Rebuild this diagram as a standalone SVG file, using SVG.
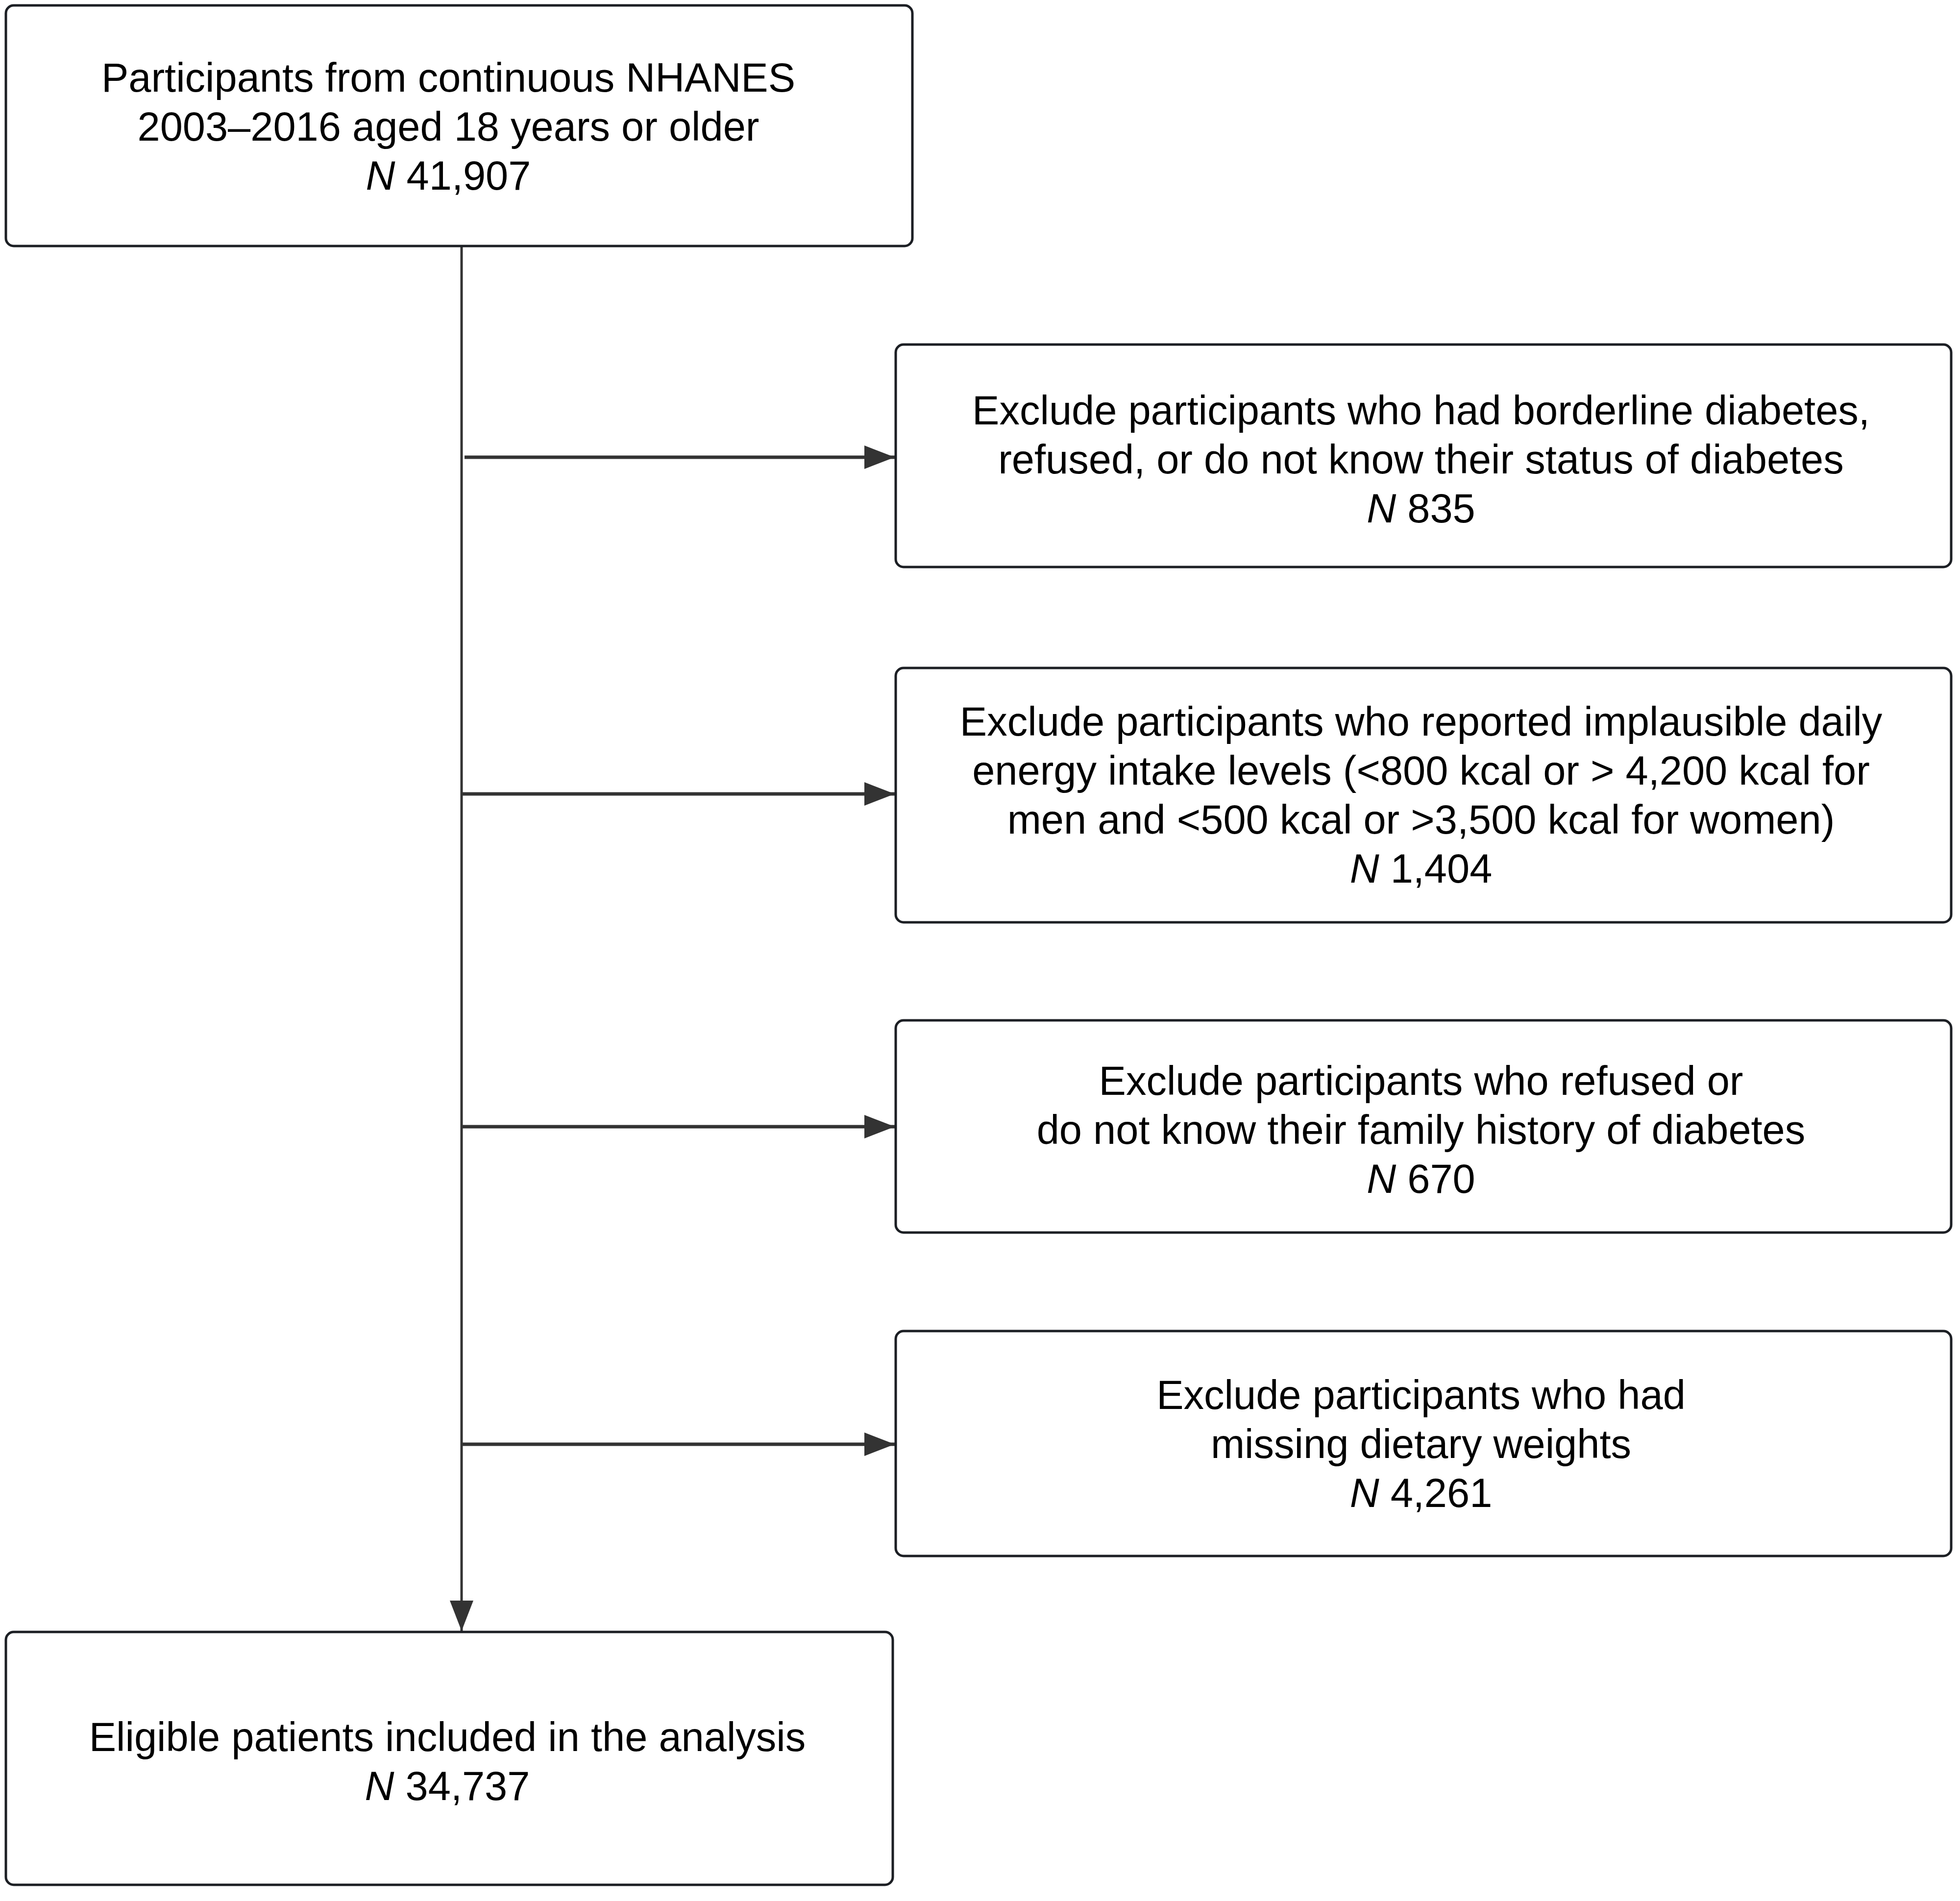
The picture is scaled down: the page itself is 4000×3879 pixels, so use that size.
<svg xmlns="http://www.w3.org/2000/svg" width="4000" height="3879" viewBox="0 0 4000 3879">
<style>
.box{fill:#fff;stroke:#1c1f24;stroke-width:5}
.t{font-family:"Liberation Sans",Arial,sans-serif;font-size:83px;fill:#000;text-anchor:middle}
.it{font-style:italic}
.conn{stroke:#333;fill:none}
</style>
<defs>
<marker id="ah" markerUnits="userSpaceOnUse" markerWidth="64" markerHeight="50" refX="62" refY="24" orient="auto">
<path d="M0,0 L62,24 L0,48 Z" fill="#333"/>
</marker>
</defs>
<rect width="4000" height="3879" fill="#fff"/>
<g id="connectors">
<line class="conn" x1="942" y1="503" x2="942" y2="3328" stroke-width="5" marker-end="url(#ah)"/>
<line class="conn" x1="948" y1="933" x2="1826" y2="933" stroke-width="7" marker-end="url(#ah)"/>
<line class="conn" x1="942" y1="1620" x2="1826" y2="1620" stroke-width="7" marker-end="url(#ah)"/>
<line class="conn" x1="942" y1="2299" x2="1826" y2="2299" stroke-width="7" marker-end="url(#ah)"/>
<line class="conn" x1="942" y1="2947" x2="1826" y2="2947" stroke-width="7" marker-end="url(#ah)"/>
</g>
<g id="n1">
<rect class="box" x="12" y="11" width="1850" height="491" rx="16"/>
<text class="t" x="915" y="187">Participants from continuous NHANES</text>
<text class="t" x="915" y="287">2003–2016 aged 18 years or older</text>
<text class="t" x="915" y="387"><tspan class="it">N</tspan> 41,907</text>
</g>
<g id="n2">
<rect class="box" x="1828" y="703" width="2154" height="454" rx="16"/>
<text class="t" x="2900" y="866">Exclude participants who had borderline diabetes,</text>
<text class="t" x="2900" y="966">refused, or do not know their status of diabetes</text>
<text class="t" x="2900" y="1066"><tspan class="it">N</tspan> 835</text>
</g>
<g id="n3">
<rect class="box" x="1828" y="1363" width="2154" height="519" rx="16"/>
<text class="t" x="2900" y="1501">Exclude participants who reported implausible daily</text>
<text class="t" x="2900" y="1601">energy intake levels (&lt;800 kcal or &gt; 4,200 kcal for</text>
<text class="t" x="2900" y="1701">men and &lt;500 kcal or &gt;3,500 kcal for women)</text>
<text class="t" x="2900" y="1801"><tspan class="it">N</tspan> 1,404</text>
</g>
<g id="n4">
<rect class="box" x="1828" y="2082" width="2154" height="433" rx="16"/>
<text class="t" x="2900" y="2234">Exclude participants who refused or</text>
<text class="t" x="2900" y="2334">do not know their family history of diabetes</text>
<text class="t" x="2900" y="2434"><tspan class="it">N</tspan> 670</text>
</g>
<g id="n5">
<rect class="box" x="1828" y="2716" width="2154" height="459" rx="16"/>
<text class="t" x="2900" y="2875">Exclude participants who had</text>
<text class="t" x="2900" y="2975">missing dietary weights</text>
<text class="t" x="2900" y="3075"><tspan class="it">N</tspan> 4,261</text>
</g>
<g id="n6">
<rect class="box" x="12" y="3330" width="1810" height="516" rx="16"/>
<text class="t" x="913" y="3573">Eligible patients included in the analysis</text>
<text class="t" x="913" y="3673"><tspan class="it">N</tspan> 34,737</text>
</g>
</svg>
